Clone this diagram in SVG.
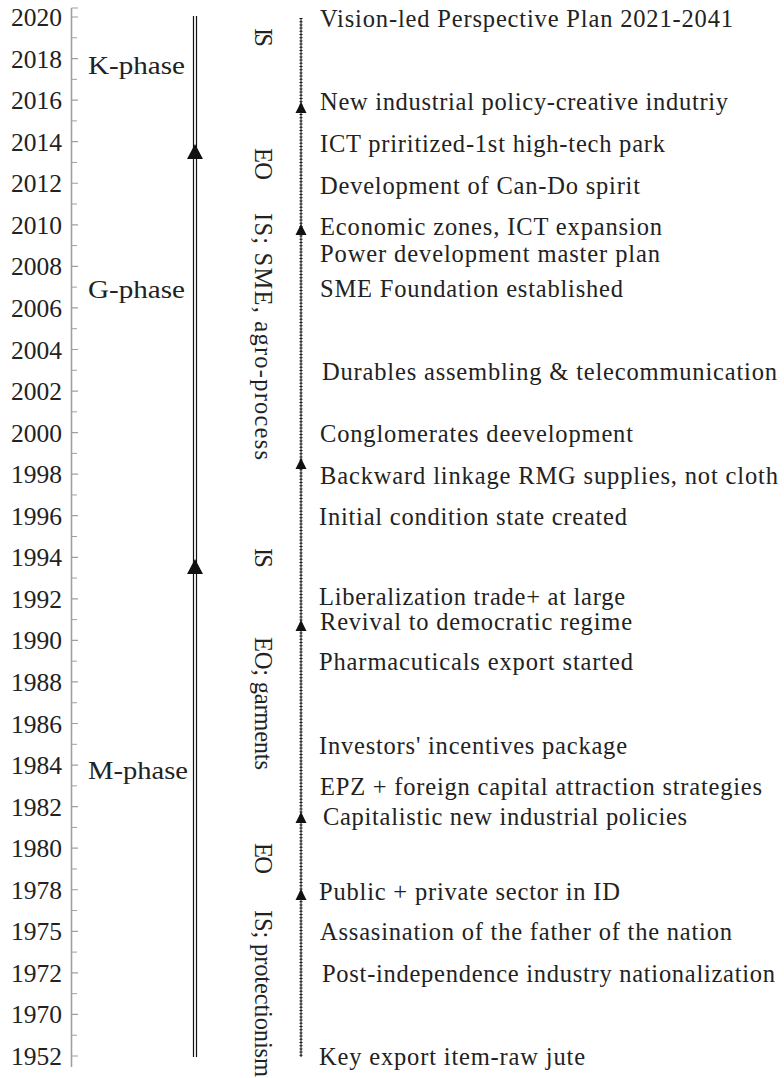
<svg xmlns="http://www.w3.org/2000/svg" width="784" height="1078" viewBox="0 0 784 1078" font-family="'Liberation Serif','Times New Roman',serif">
<style>
text{font-family:"Liberation Serif","Times New Roman",serif;fill:#222}
.yr{font-size:25.5px;text-anchor:end}
.ev{font-size:24.5px}
.ph{font-size:24.5px}
.vt{font-size:24.5px}
.axis{stroke:#a0a0a0;fill:none}
.dbl{stroke:#111;stroke-width:1.2;fill:none}
.dot{stroke:#111;fill:none}
.ah{fill:#111}
</style>
<rect width="784" height="1078" fill="#fff"/>
<g id="axis">
<path class="axis" stroke-width="1.6" d="M71.5 8V1067"/>
<path class="axis" stroke-width="1.2" d="M71.5 8H78M71.5 17H78M71.5 58.56H78M71.5 100.12H78M71.5 141.68H78M71.5 183.24H78M71.5 224.8H78M71.5 266.36H78M71.5 307.92H78M71.5 349.48H78M71.5 391.04H78M71.5 432.6H78M71.5 474.16H78M71.5 515.72H78M71.5 557.28H78M71.5 598.84H78M71.5 640.4H78M71.5 681.96H78M71.5 723.52H78M71.5 765.08H78M71.5 806.64H78M71.5 848.2H78M71.5 889.76H78M71.5 931.32H78M71.5 972.88H78M71.5 1014.44H78M71.5 1056H78"/>
<path class="axis" stroke-width="1" d="M71.5 37.78H77M71.5 79.34H77M71.5 120.9H77M71.5 162.46H77M71.5 204.02H77M71.5 245.58H77M71.5 287.14H77M71.5 328.7H77M71.5 370.26H77M71.5 411.82H77M71.5 453.38H77M71.5 494.94H77M71.5 536.5H77M71.5 578.06H77M71.5 619.62H77M71.5 661.18H77M71.5 702.74H77M71.5 744.3H77M71.5 785.86H77M71.5 827.42H77M71.5 868.98H77M71.5 910.54H77M71.5 952.1H77M71.5 993.66H77M71.5 1035.22H77"/>
<text class="yr" x="62" y="26">2020</text>
<text class="yr" x="62" y="67.6">2018</text>
<text class="yr" x="62" y="109.1">2016</text>
<text class="yr" x="62" y="150.7">2014</text>
<text class="yr" x="62" y="192.2">2012</text>
<text class="yr" x="62" y="233.8">2010</text>
<text class="yr" x="62" y="275.4">2008</text>
<text class="yr" x="62" y="316.9">2006</text>
<text class="yr" x="62" y="358.5">2004</text>
<text class="yr" x="62" y="400">2002</text>
<text class="yr" x="62" y="441.6">2000</text>
<text class="yr" x="62" y="483.2">1998</text>
<text class="yr" x="62" y="524.7">1996</text>
<text class="yr" x="62" y="566.3">1994</text>
<text class="yr" x="62" y="607.8">1992</text>
<text class="yr" x="62" y="649.4">1990</text>
<text class="yr" x="62" y="691">1988</text>
<text class="yr" x="62" y="732.5">1986</text>
<text class="yr" x="62" y="774.1">1984</text>
<text class="yr" x="62" y="815.6">1982</text>
<text class="yr" x="62" y="857.2">1980</text>
<text class="yr" x="62" y="898.8">1978</text>
<text class="yr" x="62" y="940.3">1975</text>
<text class="yr" x="62" y="981.9">1972</text>
<text class="yr" x="62" y="1023.4">1970</text>
<text class="yr" x="62" y="1065">1952</text>
</g>
<g id="connectors">
<path class="dbl" d="M193.5 16V1057M196.5 16V1057"/>
<path class="ah" d="M195 144L203 159H187Z"/>
<path class="ah" d="M195 559L203 574H187Z"/>
<path class="dot" stroke-width="1" d="M301 18V1057"/>
<path class="dot" stroke-width="3" stroke-dasharray="1 2.2" d="M301 18V1057"/>
<path class="ah" d="M301 102L306.5 113H295.5Z"/>
<path class="ah" d="M301 224L306.5 235H295.5Z"/>
<path class="ah" d="M301 458L306.5 469H295.5Z"/>
<path class="ah" d="M301 620L306.5 631H295.5Z"/>
<path class="ah" d="M301 812L306.5 823H295.5Z"/>
<path class="ah" d="M301 889L306.5 900H295.5Z"/>
</g>
<g id="phase-k"><text class="ph" x="88" y="74" textLength="97" lengthAdjust="spacingAndGlyphs">K-phase</text></g>
<g id="phase-g"><text class="ph" x="88" y="298" textLength="97" lengthAdjust="spacingAndGlyphs">G-phase</text></g>
<g id="phase-m"><text class="ph" x="88" y="779" textLength="100" lengthAdjust="spacingAndGlyphs">M-phase</text></g>
<g id="strategy-1"><text class="vt" transform="translate(255 28) rotate(90)" textLength="19">IS</text></g>
<g id="strategy-2"><text class="vt" transform="translate(255 148) rotate(90)" textLength="32">EO</text></g>
<g id="strategy-3"><text class="vt" transform="translate(255 213) rotate(90)" textLength="247">IS; SME, agro-process</text></g>
<g id="strategy-4"><text class="vt" transform="translate(255 548) rotate(90)" textLength="20">IS</text></g>
<g id="strategy-5"><text class="vt" transform="translate(255 637) rotate(90)" textLength="133">EO; garments</text></g>
<g id="strategy-6"><text class="vt" transform="translate(255 843) rotate(90)" textLength="31">EO</text></g>
<g id="strategy-7"><text class="vt" transform="translate(255 910) rotate(90)" textLength="167">IS; protectionism</text></g>
<g id="ev-2020"><text class="ev" x="320" y="27" textLength="413">Vision-led  Perspective Plan 2021-2041</text></g>
<g id="ev-2016"><text class="ev" x="320" y="110" textLength="408">New industrial  policy-creative indutriy</text></g>
<g id="ev-2014"><text class="ev" x="320" y="152" textLength="345">ICT priritized-1st high-tech  park</text></g>
<g id="ev-2012"><text class="ev" x="320" y="194" textLength="320">Development of Can-Do spirit</text></g>
<g id="ev-2010"><text class="ev" x="320" y="235" textLength="342">Economic zones, ICT expansion</text></g>
<g id="ev-2009"><text class="ev" x="320" y="262" textLength="340">Power development  master plan</text></g>
<g id="ev-2007"><text class="ev" x="320" y="297" textLength="303">SME Foundation established</text></g>
<g id="ev-2003"><text class="ev" x="322" y="380" textLength="455">Durables assembling  &amp; telecommunication</text></g>
<g id="ev-2000"><text class="ev" x="320" y="442" textLength="313">Conglomerates deevelopment</text></g>
<g id="ev-1998"><text class="ev" x="320" y="484" textLength="458">Backward linkage  RMG supplies,  not cloth</text></g>
<g id="ev-1996"><text class="ev" x="319" y="525" textLength="308">Initial condition  state created</text></g>
<g id="ev-1992"><text class="ev" x="319" y="605" textLength="306">Liberalization  trade+ at large</text></g>
<g id="ev-1991"><text class="ev" x="320" y="630" textLength="312">Revival to democratic regime</text></g>
<g id="ev-1989"><text class="ev" x="319" y="670" textLength="314">Pharmacuticals export started</text></g>
<g id="ev-1985"><text class="ev" x="319" y="754" textLength="308">Investors' incentives package</text></g>
<g id="ev-1983"><text class="ev" x="320" y="795" textLength="442">EPZ + foreign  capital attraction strategies</text></g>
<g id="ev-1982"><text class="ev" x="323" y="825" textLength="364">Capitalistic  new industrial policies</text></g>
<g id="ev-1978"><text class="ev" x="319" y="900" textLength="301">Public + private sector in ID</text></g>
<g id="ev-1975"><text class="ev" x="320" y="940" textLength="412">Assasination  of the father of the nation</text></g>
<g id="ev-1972"><text class="ev" x="322" y="982" textLength="453">Post-independence industry  nationalization</text></g>
<g id="ev-1952"><text class="ev" x="319" y="1065" textLength="266">Key export  item-raw jute</text></g>
</svg>
